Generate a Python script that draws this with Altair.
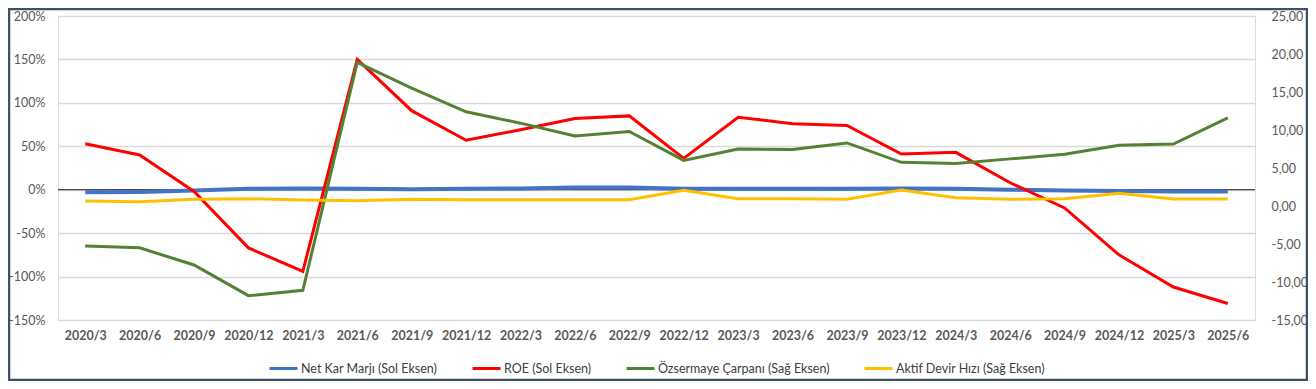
import altair as alt
import pandas as pd

periods = ["2020/3", "2020/6", "2020/9", "2020/12", "2021/3", "2021/6", "2021/9", "2021/12",
           "2022/3", "2022/6", "2022/9", "2022/12", "2023/3", "2023/6", "2023/9", "2023/12",
           "2024/3", "2024/6", "2024/9", "2024/12", "2025/3", "2025/6"]

# left axis (ratio, shown as %)
net_margin = [-0.03, -0.025, -0.01, 0.01, 0.015, 0.01, 0.005, 0.01, 0.015, 0.025, 0.025,
              0.01, 0.01, 0.01, 0.01, 0.013, 0.01, 0.0, -0.01, -0.015, -0.02, -0.02]
roe = [0.53, 0.40, -0.02, -0.67, -0.94, 1.50, 0.91, 0.57, 0.69, 0.82, 0.85,
       0.36, 0.835, 0.76, 0.74, 0.41, 0.43, 0.08, -0.21, -0.75, -1.12, -1.31]
# right axis
equity_mult = [-5.26, -5.5, -7.76, -11.8, -11.1, 18.9, 15.5, 12.4, 10.9, 9.2, 9.8,
               6.0, 7.5, 7.45, 8.3, 5.75, 5.6, 6.2, 6.8, 8.0, 8.15, 11.6]
asset_turn = [0.66, 0.57, 0.88, 0.96, 0.79, 0.70, 0.88, 0.83, 0.83, 0.83, 0.83,
              2.06, 0.96, 0.96, 0.88, 2.10, 1.10, 0.88, 0.96, 1.67, 0.92, 0.92]

series_names = ["Net Kar Marjı (Sol Eksen)", "ROE (Sol Eksen)",
                "Özsermaye Çarpanı (Sağ Eksen)", "Aktif Devir Hızı (Sağ Eksen)"]
series_colors = ["#4472C4", "#FF0000", "#548235", "#FFC000"]
left_ticks = [-1.5, -1.0, -0.5, 0.0, 0.5, 1.0, 1.5, 2.0]
right_ticks = [-15, -10, -5, 0, 5, 10, 15, 20, 25]

def frame(values, name):
    return pd.DataFrame({"period": periods, "value": values, "series": name})

W, H = 1197, 304
FONT = "Lato"
GREY = "#595959"

color = alt.Color(
    "series:N",
    scale=alt.Scale(domain=series_names, range=series_colors),
    legend=alt.Legend(
        title=None, orient="none", direction="horizontal",
        legendX=210, legendY=337,
        symbolType="stroke", symbolSize=784, symbolStrokeWidth=3,
        labelFont=FONT, labelFontSize=12.5, labelColor="#404040",
        labelLimit=400, columnPadding=28, labelOffset=2,
    ),
)

x_enc = alt.X(
    "period:O", sort=periods, title=None,
    scale=alt.Scale(paddingOuter=0.5),
    axis=alt.Axis(labelAngle=0, domain=False, ticks=False, grid=False,
                  labelFont=FONT, labelFontSize=12.5, labelFontWeight="bold",
                  labelColor=GREY, labelPadding=9),
)

left_scale = alt.Scale(domain=[-1.5, 2.0], nice=False)
right_scale = alt.Scale(domain=[-15, 25], nice=False)

left_axis = alt.Axis(values=left_ticks, labelExpr="round(datum.value*100) + '%'",
                     domain=False, ticks=False, grid=True, gridColor="#D9D9D9",
                     gridWidth=1.5, labelFont=FONT, labelFontSize=12.5,
                     labelColor=GREY, labelPadding=13, title=None)
right_axis = alt.Axis(values=right_ticks, orient="right",
                      labelExpr="(datum.value < 0 ? '-' : '') + replace(format(abs(datum.value), '.2f'), '.', ',')",
                      domain=False, ticks=False, grid=False, labelFont=FONT,
                      labelFontSize=12.5, labelColor=GREY, labelPadding=16, title=None)

zero = alt.Chart(pd.DataFrame({"value": [0.0]})).mark_rule(color="#1F1F1F", strokeWidth=1).encode(
    y=alt.Y("value:Q", scale=left_scale, axis=left_axis)
)
blue = alt.Chart(frame(net_margin, series_names[0])).mark_line(strokeWidth=4).encode(
    x=x_enc, y=alt.Y("value:Q", scale=left_scale, axis=left_axis), color=color)
red = alt.Chart(frame(roe, series_names[1])).mark_line(strokeWidth=3).encode(
    x=x_enc, y=alt.Y("value:Q", scale=left_scale, axis=left_axis), color=color)
left = alt.layer(zero, blue, red)

green = alt.Chart(frame(equity_mult, series_names[2])).mark_line(strokeWidth=3).encode(
    x=x_enc, y=alt.Y("value:Q", scale=right_scale, axis=right_axis), color=color)
yellow = alt.Chart(frame(asset_turn, series_names[3])).mark_line(strokeWidth=3).encode(
    x=x_enc, y=alt.Y("value:Q", scale=right_scale, axis=right_axis), color=color)
right = alt.layer(green, yellow)

border = alt.Chart(pd.DataFrame({"b": [0]})).mark_rect(
    filled=False, stroke="#3E5068", strokeWidth=2.5
).encode(x=alt.value(-49), x2=alt.value(W + 52), y=alt.value(-7), y2=alt.value(H + 60))

chart = alt.layer(left, right, border).resolve_scale(y="independent").properties(
    width=W, height=H,
    autosize=alt.AutoSizeParams(type="none"),
    padding={"left": 50, "top": 8, "right": 53, "bottom": 61},
).configure_view(stroke=None).configure(background="white")

chart.save("out.html", embed_options={"renderer": "svg", "actions": False})
